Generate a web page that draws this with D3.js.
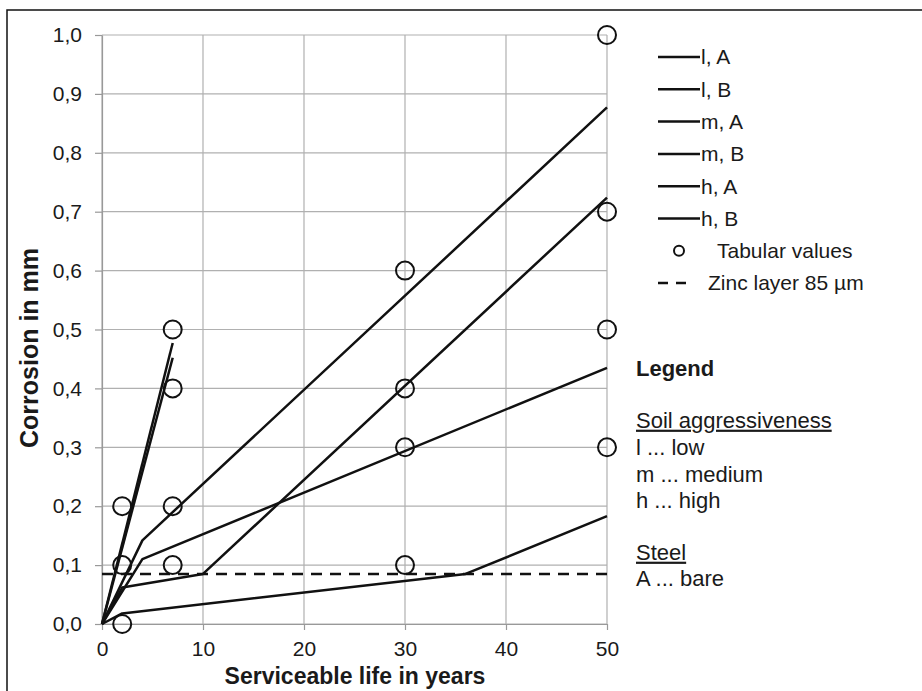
<!DOCTYPE html>
<meta charset="utf-8">
<head>
  <style>
    body { margin: 0; background: #fff; }
    text { font-family: "Liberation Sans", Arial, sans-serif; fill: #1a1a1a; }
    .grid line { stroke: #b0b0b0; stroke-width: 1.2; }
    .axis path, .axis line { stroke: #999; stroke-width: 1.2; }
    .axis text { font-size: 21px; }
  </style>
</head>
<body>
  <script src="https://d3js.org/d3.v7.min.js"></script>
  <script>
    // series: serviceable life (years) and corrosion (mm)
    var lA_years = [0, 4, 50], lA_vals = [0, 0.11, 0.435];
    var lB_years = [0, 2, 36, 50], lB_vals = [0, 0.018, 0.085, 0.183];
    var mA_years = [0, 4, 50], mA_vals = [0, 0.142, 0.877];
    var mB_years = [0, 2, 10, 50], mB_vals = [0, 0.062, 0.085, 0.724];
    var hA_years = [0, 7], hA_vals = [0, 0.477];
    var hB_years = [0, 7], hB_vals = [0, 0.452];

    // tabular values (circles)
    var tab_years = [2, 2, 2, 7, 7, 7, 7, 30, 30, 30, 30, 50, 50, 50, 50];
    var tab_vals = [0, 0.1, 0.2, 0.1, 0.2, 0.4, 0.5, 0.1, 0.3, 0.4, 0.6, 0.3, 0.5, 0.7, 1.0];

    var zinc_layer = 0.085;
    var xTicks = [0, 10, 20, 30, 40, 50];
    var yTicks = [0, 0.1, 0.2, 0.3, 0.4, 0.5, 0.6, 0.7, 0.8, 0.9, 1.0];
    var legendLabels = ["l, A", "l, B", "m, A", "m, B", "h, A", "h, B"];

    var series = [
      { name: "l, A", x: lA_years, y: lA_vals },
      { name: "l, B", x: lB_years, y: lB_vals },
      { name: "m, A", x: mA_years, y: mA_vals },
      { name: "m, B", x: mB_years, y: mB_vals },
      { name: "h, A", x: hA_years, y: hA_vals },
      { name: "h, B", x: hB_years, y: hB_vals }
    ];

    var W = 922, H = 691;
    var svg = d3.select("body").append("svg")
      .attr("width", W)
      .attr("height", H);

    // outer frame (only left and top edges fall inside the picture)
    svg.append("rect")
      .attr("x", 7).attr("y", 10)
      .attr("width", 1000).attr("height", 1000)
      .attr("fill", "none")
      .attr("stroke", "#111")
      .attr("stroke-width", 1.5);

    var x = d3.scaleLinear().domain([0, 50]).range([102, 607]);
    var y = d3.scaleLinear().domain([0, 1]).range([624, 35]);

    var fmt = function (d) { return d3.format(".1f")(d).replace(".", ","); };

    // grid
    var grid = svg.append("g").attr("class", "grid");
    grid.selectAll(".gx").data(xTicks).enter().append("line")
      .attr("x1", d => x(d)).attr("x2", d => x(d))
      .attr("y1", y(0)).attr("y2", y(1));
    grid.selectAll(".gy").data(yTicks).enter().append("line")
      .attr("x1", x(0)).attr("x2", x(50))
      .attr("y1", d => y(d)).attr("y2", d => y(d));

    // axes
    svg.append("g")
      .attr("class", "axis")
      .attr("transform", "translate(" + x(0) + ",0)")
      .call(d3.axisLeft(y).tickValues(yTicks).tickFormat(fmt).tickSize(7).tickSizeOuter(0).tickPadding(13))
      .call(g => g.selectAll("text").attr("fill", "#1a1a1a"));

    svg.append("g")
      .attr("class", "axis")
      .attr("transform", "translate(0," + y(0) + ")")
      .call(d3.axisBottom(x).tickValues(xTicks).tickSize(6).tickSizeOuter(0).tickPadding(11))
      .call(g => g.selectAll("text").attr("fill", "#1a1a1a"));

    // zinc layer
    svg.append("line")
      .attr("x1", x(0)).attr("x2", x(50))
      .attr("y1", y(zinc_layer)).attr("y2", y(zinc_layer))
      .attr("stroke", "#111")
      .attr("stroke-width", 2.5)
      .attr("stroke-dasharray", "11,8");

    // series lines
    var line = d3.line()
      .x(d => x(d[0]))
      .y(d => y(d[1]));

    svg.selectAll(".series").data(series).enter().append("path")
      .attr("class", "series")
      .attr("d", d => line(d.x.map((v, i) => [v, d.y[i]])))
      .attr("fill", "none")
      .attr("stroke", "#111")
      .attr("stroke-width", 2.5)
      .attr("stroke-linejoin", "round");

    // tabular values
    svg.selectAll(".tab").data(tab_years).enter().append("circle")
      .attr("class", "tab")
      .attr("cx", d => x(d))
      .attr("cy", (d, i) => y(tab_vals[i]))
      .attr("r", 9)
      .attr("fill", "none")
      .attr("stroke", "#111")
      .attr("stroke-width", 2);

    // axis titles
    svg.append("text")
      .attr("transform", "translate(38,348) rotate(-90)")
      .attr("text-anchor", "middle")
      .style("font-size", "25px")
      .style("font-weight", "bold")
      .text("Corrosion in mm");

    svg.append("text")
      .attr("x", 355).attr("y", 684)
      .attr("text-anchor", "middle")
      .style("font-size", "23px")
      .style("font-weight", "bold")
      .text("Serviceable life in years");

    // legend (top)
    var leg = svg.append("g").style("font-size", "21px");
    var rowY = function (i) { return 57 + i * 32.3; };

    leg.selectAll(".ll").data(legendLabels).enter().append("line")
      .attr("x1", 658).attr("x2", 700)
      .attr("y1", (d, i) => rowY(i)).attr("y2", (d, i) => rowY(i))
      .attr("stroke", "#111").attr("stroke-width", 2.5);
    leg.selectAll(".lt").data(legendLabels).enter().append("text")
      .attr("x", 701).attr("y", (d, i) => rowY(i)).attr("dy", "0.35em")
      .text(d => d);

    leg.append("circle")
      .attr("cx", 679).attr("cy", rowY(6)).attr("r", 5)
      .attr("fill", "none").attr("stroke", "#111").attr("stroke-width", 2);
    leg.append("text")
      .attr("x", 717).attr("y", rowY(6)).attr("dy", "0.35em")
      .text("Tabular values");

    leg.append("line")
      .attr("x1", 658).attr("x2", 690)
      .attr("y1", rowY(7)).attr("y2", rowY(7))
      .attr("stroke", "#111").attr("stroke-width", 2.5)
      .attr("stroke-dasharray", "10,8");
    leg.append("text")
      .attr("x", 708).attr("y", rowY(7)).attr("dy", "0.35em")
      .text("Zinc layer 85 µm");

    // legend (explanations)
    var notes = svg.append("g").style("font-size", "22px");
    notes.append("text").attr("x", 636).attr("y", 368).attr("dy", "0.35em")
      .style("font-weight", "bold").text("Legend");
    notes.append("text").attr("x", 636).attr("y", 420).attr("dy", "0.35em")
      .style("text-decoration", "underline").text("Soil aggressiveness");
    notes.append("text").attr("x", 636).attr("y", 447).attr("dy", "0.35em").text("l ... low");
    notes.append("text").attr("x", 636).attr("y", 474).attr("dy", "0.35em").text("m ... medium");
    notes.append("text").attr("x", 636).attr("y", 500).attr("dy", "0.35em").text("h ... high");
    notes.append("text").attr("x", 636).attr("y", 552).attr("dy", "0.35em")
      .style("text-decoration", "underline").text("Steel");
    notes.append("text").attr("x", 636).attr("y", 578).attr("dy", "0.35em").text("A ... bare");
  </script>
</body>
